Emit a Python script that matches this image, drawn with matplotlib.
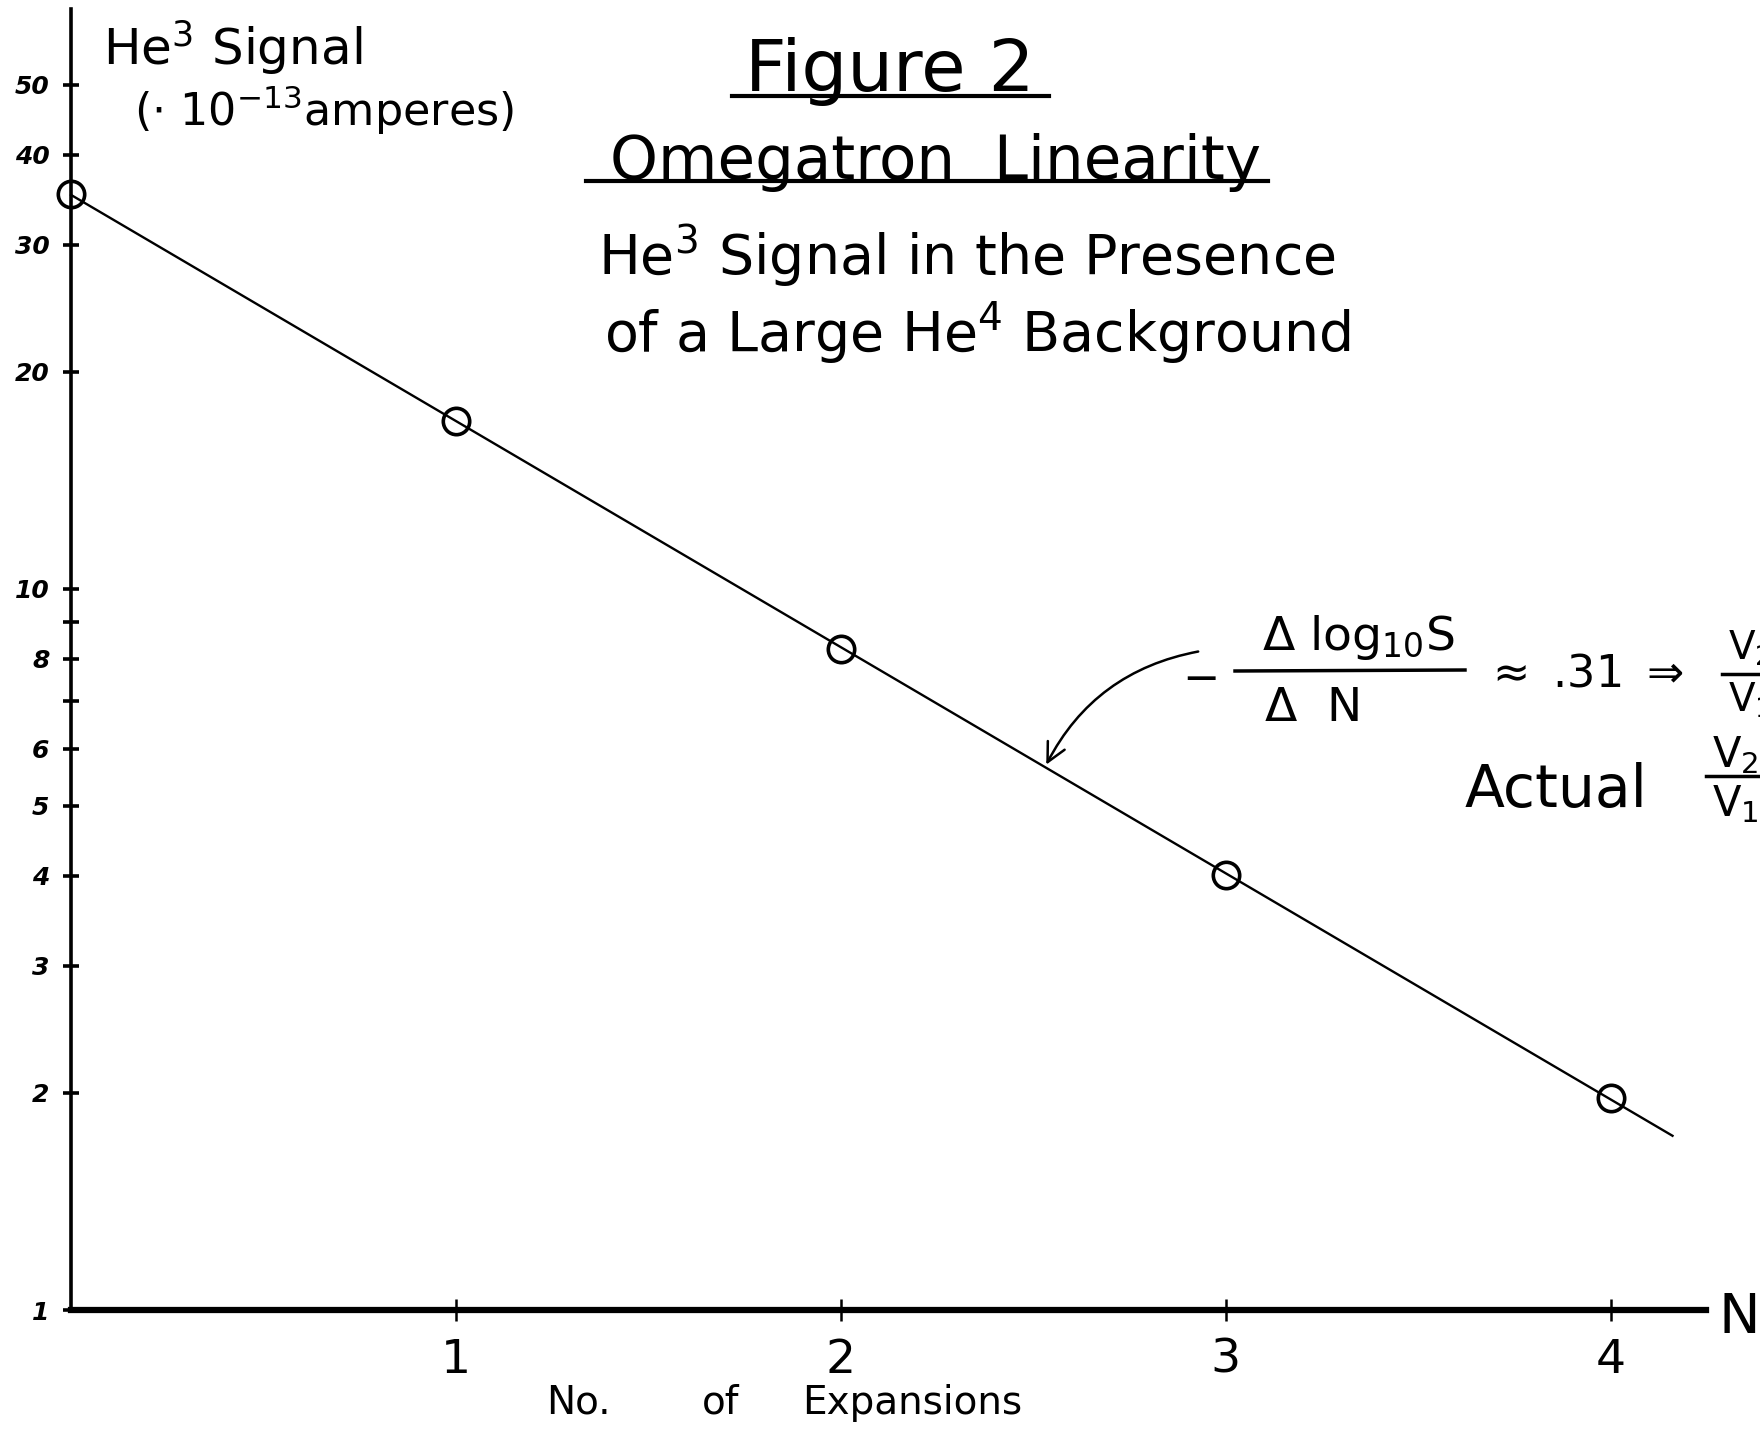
import matplotlib
matplotlib.use("Agg")
import matplotlib.pyplot as plt
import numpy as np
from matplotlib.lines import Line2D

# He3 signal after each expansion (units of 1e-13 A)
n_expansions = [0, 1, 2, 3, 4]
he3_signal = [35.3, 17.1, 8.26, 4.01, 1.97]

y_ticks = [1, 2, 3, 4, 5, 6, 7, 8, 9, 10, 20, 30, 40, 50]
y_tick_labels = ["1", "2", "3", "4", "5", "6", "", "8", "", "10", "20", "30", "40", "50"]
x_ticks = [1, 2, 3, 4]
x_tick_labels = ["1", "2", "3", "4"]

W, H = 1760, 1434
fig = plt.figure(figsize=(W / 100, H / 100), dpi=100)
fig.patch.set_facecolor("white")


def fx(px):
    return px / W


def fy(py):
    return 1 - py / H


ax = fig.add_axes([fx(71), fy(1310), fx(1706) - fx(71), fy(9) - fy(1310)])
ax.set_yscale("log")
ax.set_xlim(0, 4.247)
ax.set_ylim(1, 63.7)

# fitted slope of log10(S) against N
slope, icpt = np.polyfit(n_expansions, np.log10(he3_signal), 1)
n_line = np.array([0, 4.16])
ax.plot(n_line, 10 ** (icpt + slope * n_line), color="black", lw=1.7,
        clip_on=False, zorder=2)
ax.plot(n_expansions, he3_signal, "o", mfc="none", mec="black", ms=19,
        mew=2.6, clip_on=False, zorder=3)

for s in ["top", "right"]:
    ax.spines[s].set_visible(False)
ax.spines["left"].set_linewidth(2.6)
ax.spines["bottom"].set_linewidth(4.5)

ax.set_yticks(y_ticks)
ax.set_yticklabels(y_tick_labels)
ax.yaxis.set_minor_locator(matplotlib.ticker.NullLocator())
ax.tick_params(axis="y", direction="inout", length=11, width=2.6, pad=10,
               labelsize=18)
for lab in ax.get_yticklabels():
    lab.set_fontweight("bold")
    lab.set_fontstyle("italic")
ax.set_xticks(x_ticks)
ax.set_xticklabels(x_tick_labels)
ax.tick_params(axis="x", direction="inout", length=16, width=1.8, pad=12,
               labelsize=34)

# axis names
fig.text(fx(578), fy(1403), "No.", fontsize=28, ha="center", va="center")
fig.text(fx(721), fy(1403), "of", fontsize=28, ha="center", va="center")
fig.text(fx(912), fy(1403), "Expansions", fontsize=28, ha="center",
         va="center")
fig.text(fx(1718), fy(1318), "N", fontsize=40, ha="left", va="center")
fig.text(fx(103), fy(47), "He$^3$ Signal", fontsize=36, ha="left",
         va="center")
fig.text(fx(134), fy(110), r"($\cdot$ 10$^{-13}$amperes)", fontsize=32,
         ha="left", va="center")

# title block
fig.text(fx(890), fy(72), "Figure 2", fontsize=52, ha="center", va="center")
fig.add_artist(Line2D([fx(732), fx(1049)], [fy(96), fy(96)], color="black",
                      lw=3))
fig.text(fx(935), fy(163), "Omegatron  Linearity", fontsize=44, ha="center",
         va="center")
fig.add_artist(Line2D([fx(586), fx(1268)], [fy(181), fy(181)], color="black",
                      lw=3))
fig.text(fx(598), fy(256), "He$^3$ Signal in the Presence", fontsize=40,
         ha="left", va="center")
fig.text(fx(604), fy(333), "of a Large He$^4$ Background", fontsize=40,
         ha="left", va="center")

# slope note with arrow to the line
n_arrow = 2.53
ax.annotate("", xy=(n_arrow, 10 ** (icpt + slope * n_arrow)),
            xytext=(2.935, 8.2),
            arrowprops=dict(arrowstyle="->", lw=1.8, color="black",
                            mutation_scale=34,
                            connectionstyle="arc3,rad=0.25"))
fig.text(fx(1201), fy(679), "−", fontsize=32, ha="center", va="center")
fig.text(fx(1358), fy(638), r"$\Delta$ log$_{10}$S", fontsize=34,
         ha="center", va="center")
fig.add_artist(Line2D([fx(1235), fx(1465)], [fy(671), fy(670)],
                      color="black", lw=2.5))
fig.text(fx(1311), fy(708), r"$\Delta$  N", fontsize=34, ha="center",
         va="center")
fig.text(fx(1484), fy(674), r"$\approx$ .31 $\Rightarrow$", fontsize=32,
         ha="left", va="center")
fig.text(fx(1728), fy(648), "V$_2$", fontsize=28, ha="left", va="center")
fig.add_artist(Line2D([fx(1722), fx(1780)], [fy(674), fy(674)],
                      color="black", lw=2.5))
fig.text(fx(1728), fy(700), "V$_1$", fontsize=28, ha="left", va="center")

fig.text(fx(1465), fy(791), "Actual", fontsize=42, ha="left", va="center")
fig.text(fx(1712), fy(755), "V$_2$", fontsize=30, ha="left", va="center")
fig.add_artist(Line2D([fx(1706), fx(1780)], [fy(776), fy(776)],
                      color="black", lw=2.5))
fig.text(fx(1712), fy(804), "V$_1$", fontsize=30, ha="left", va="center")

fig.savefig("out.png", dpi=100)
